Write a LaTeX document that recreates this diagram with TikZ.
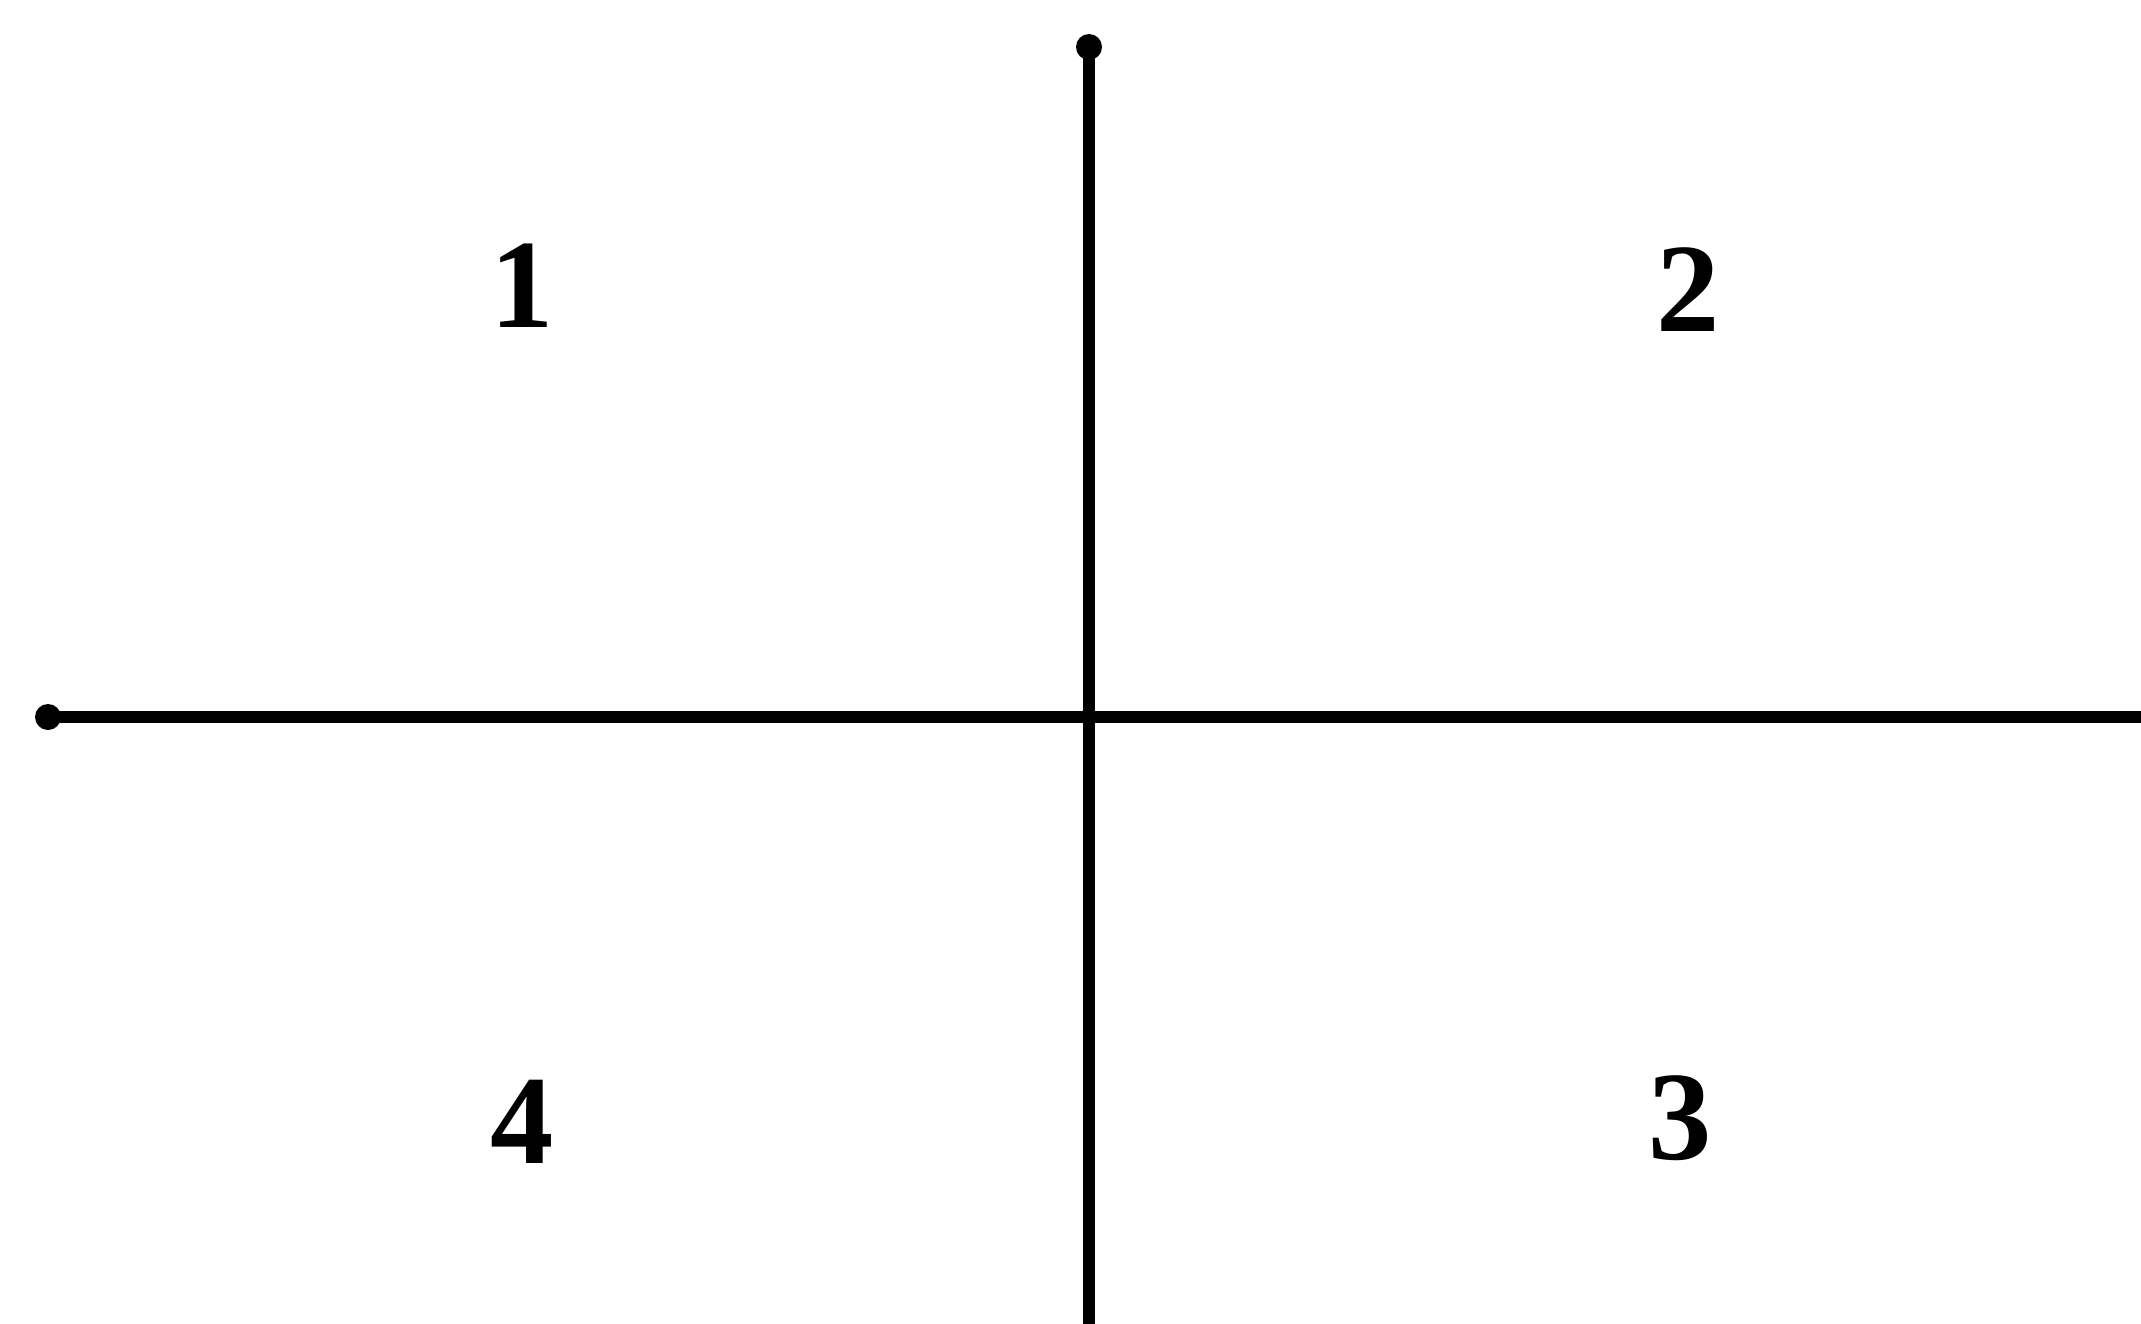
\documentclass[tikz,border=0pt]{standalone}
\usepackage{fontspec}
\setmainfont{Liberation Serif}
\usepackage{tikz}

\begin{document}
\begin{tikzpicture}[x=0.01cm,y=-0.01cm,axis/.style={line width=3.6pt,black},quad/.style={font=\fontsize{36}{40}\selectfont\bfseries}]
  \useasboundingbox (0,0) rectangle (2141,1324);
  % the two lines
  \coordinate (top) at (1089,47);
  \coordinate (bot) at (1089,1324);
  \coordinate (lft) at (48,717);
  \coordinate (rgt) at (2141,717);
  \draw[axis] (top) -- (bot);
  \draw[axis] (lft) -- (rgt);
  \fill (top) circle (13);
  \fill (lft) circle (13);
  % quadrant numbers
  \node[quad] (q1) at (522,286) {1};
  \node[quad] (q2) at (1688,290) {2};
  \node[quad] (q3) at (1680,1118) {3};
  \node[quad] (q4) at (522,1122) {4};
\end{tikzpicture}
\end{document}
